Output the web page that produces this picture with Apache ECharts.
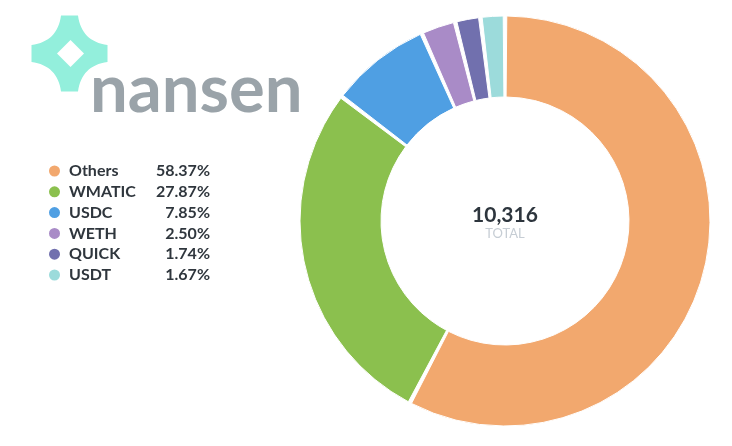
<!DOCTYPE html>
<html><head><meta charset="utf-8">
<script src="https://cdn.jsdelivr.net/npm/echarts@6/dist/echarts.min.js"></script>
<style>html,body{margin:0;padding:0;background:#fff}#c{width:732px;height:446px}</style>
</head><body><div id="c"></div>
<script>
const categories = ['Others', 'WMATIC', 'USDC', 'WETH', 'QUICK', 'USDT'];
const shares = [58.37, 27.87, 7.85, 2.50, 1.74, 1.67];
const colors = ['#f2a86e', '#8bc04e', '#4f9fe3', '#a98bc7', '#7170ae', '#9cdbdb'];
const totalLabel = '10,316';
const totalCaption = 'TOTAL';
const brand = 'nansen';

// logo star outline (quadratic segments sampled into a polygon)
function quad(p0, c, p1, n) {
  const out = [];
  for (let i = 0; i <= n; i++) {
    const t = i / n, u = 1 - t;
    out.push([u*u*p0[0] + 2*u*t*c[0] + t*t*p1[0], u*u*p0[1] + 2*u*t*c[1] + t*t*p1[1]]);
  }
  return out;
}
const SX = 69.5, SY = 53.5, H = 8.5, RCH = 38, CC = 12;
function P(dx, dy) { return [SX + dx, SY + dy]; }
const starPts = [].concat(
  quad(P(H,-RCH), P(CC,-CC), P(RCH,-H), 16),
  quad(P(RCH,H), P(CC,CC), P(H,RCH), 16),
  quad(P(-H,RCH), P(-CC,CC), P(-RCH,H), 16),
  quad(P(-RCH,-H), P(-CC,-CC), P(-H,-RCH), 16)
);

// The reference ring reserves a fixed gap per slice and shares the rest in proportion
const GAP_DEG = 1;
const n = shares.length;
const ringWeight = v => v * (1 - n * GAP_DEG / 360) + 100 * GAP_DEG / 360;

const chart = echarts.init(document.getElementById('c'));
const shareMap = {};
categories.forEach((c, i) => shareMap[c] = shares[i]);

chart.setOption({
  animation: false,
  color: colors,
  textStyle: { fontFamily: 'Lato' },
  legend: {
    orient: 'vertical',
    left: 42,
    top: 158,
    itemGap: 4.8,
    icon: 'circle',
    itemWidth: 13,
    itemHeight: 13,
    data: categories,
    selectedMode: false,
    formatter: name => '{n|' + name + '}{p|' + shareMap[name].toFixed(2) + '%}',
    textStyle: {
      rich: {
        n: { fontFamily: 'Lato', fontWeight: 'bold', fontSize: 16, color: '#2f363d', width: 85, height: 16, padding: [0, 0, 0, 3] },
        p: { fontFamily: 'Lato', fontWeight: 'bold', fontSize: 16, color: '#2f363d', width: 56, align: 'right', height: 16 }
      }
    }
  },
  graphic: [
    {
      type: 'polygon',
      shape: { points: starPts },
      style: { fill: '#93efdc' }
    },
    {
      type: 'polygon',
      shape: { points: [[70.5, 40], [84, 53.5], [70.5, 67], [57, 53.5]] },
      style: { fill: '#ffffff' }
    },
    {
      type: 'text',
      style: {
        text: brand,
        x: 90, y: 90,
        verticalAlign: 'middle',
        fontFamily: 'Lato',
        fontSize: 67,
        fontWeight: 'bold',
        fill: '#9aa3a9'
      }
    },
    {
      type: 'text',
      style: {
        text: totalLabel,
        x: 505, y: 215,
        align: 'center', verticalAlign: 'middle',
        fontFamily: 'Lato', fontWeight: 'bold', fontSize: 21, fill: '#2d353d'
      }
    },
    {
      type: 'text',
      style: {
        text: totalCaption,
        x: 505, y: 234,
        align: 'center', verticalAlign: 'middle',
        fontFamily: 'Lato', fontSize: 13, fill: '#c6cdd4'
      }
    }
  ],
  series: [{
    type: 'pie',
    center: [505, 221],
    radius: [124, 205],
    startAngle: 90,
    clockwise: true,
    padAngle: GAP_DEG,
    label: { show: false },
    labelLine: { show: false },
    emphasis: { disabled: true },
    itemStyle: { borderColor: '#ffffff', borderWidth: 1 },
    data: categories.map((c, i) => ({ name: c, value: ringWeight(shares[i]) }))
  }]
});
</script></body></html>
